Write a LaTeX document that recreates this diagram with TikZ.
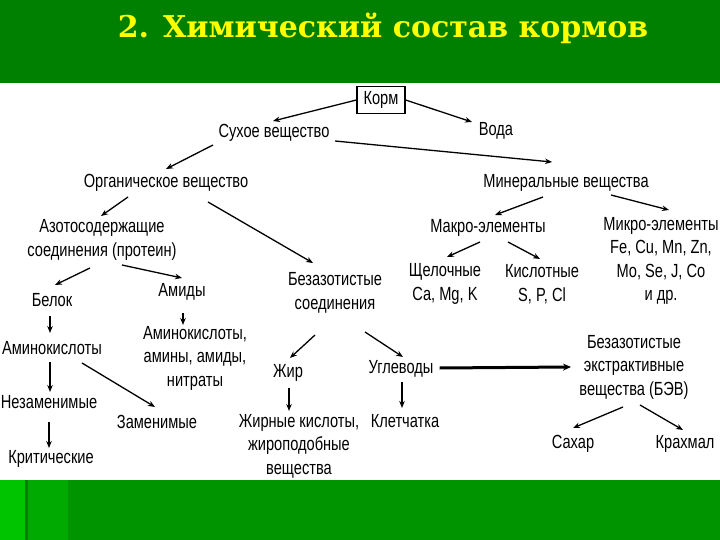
\documentclass[tikz,border=0pt]{standalone}
\usepackage{fontspec}
\setmainfont{Liberation Sans}[FakeStretch=0.77]
\newfontfamily\titlefont{DejaVu Serif}
\usetikzlibrary{arrows.meta}
\definecolor{topgreen}{HTML}{008000}
\definecolor{botgreen}{HTML}{009400}
\definecolor{lightgreen}{HTML}{00C400}
\definecolor{midgreen}{HTML}{00AA00}
\definecolor{titleyellow}{HTML}{FFFF00}
\begin{document}
\begin{tikzpicture}[x=1pt,y=-1pt,
  lbl/.style={font=\fontsize{19}{23.5}\selectfont, align=center, inner sep=0pt, text=black},
  arr/.style={-{Stealth[length=7pt,width=5.5pt]}, line width=1.3pt, black},
  thickarr/.style={-{Stealth[length=8pt,width=7pt]}, line width=3pt, black}]
\useasboundingbox (0,0) rectangle (720,540);
\fill[white] (0,0) rectangle (720,540);
\fill[topgreen] (0,0) rectangle (720,83);
\fill[botgreen] (0,480) rectangle (720,540);
\fill[lightgreen] (0,480) rectangle (25,540);
\fill[midgreen] (28,480) rectangle (68,540);
\fill[green!50!black] (25,480) rectangle (28,540);
\node[font=\titlefont\bfseries\fontsize{30}{34}\selectfont, text=titleyellow, inner sep=0pt] (title) at (383,28) {2. Химический состав кормов};

\node[lbl, draw, line width=1.2pt, minimum width=48pt, minimum height=27pt] (korm) at (381,100) {Корм};
\node[lbl] (suh) at (274,133) {Сухое вещество};
\node[lbl] (voda) at (496,131) {Вода};
\node[lbl] (org) at (166,183) {Органическое вещество};
\node[lbl] (min) at (566,183) {Минеральные вещества};
\node[lbl] (azot) at (102,240) {Азотосодержащие\\соединения (протеин)};
\node[lbl] (bezs) at (335,293) {Безазотистые\\соединения};
\node[lbl] (makro) at (488,228) {Макро-элементы};
\node[lbl] (mikro) at (661,261) {Микро-элементы\\Fe, Cu, Mn, Zn,\\Mo, Se, J, Co\\и др.};
\node[lbl] (shch) at (445,284) {Щелочные\\Ca, Mg, K};
\node[lbl] (kisl) at (542,284) {Кислотные\\S, P, Cl};
\node[lbl] (belok) at (52,300) {Белок};
\node[lbl] (amidy) at (182,292) {Амиды};
\node[lbl] (amino) at (52,348) {Аминокислоты};
\node[lbl] (amino2) at (195,358) {Аминокислоты,\\амины, амиды,\\нитраты};
\node[lbl] (zhir) at (288,373) {Жир};
\node[lbl] (ugl) at (401,369) {Углеводы};
\node[lbl] (bev) at (634,367) {Безазотистые\\экстрактивные\\вещества (БЭВ)};
\node[lbl] (nezam) at (49,402) {Незаменимые};
\node[lbl] (zam) at (157,422) {Заменимые};
\node[lbl] (kletch) at (405,421) {Клетчатка};
\node[lbl] (zhirk) at (299,446) {Жирные кислоты,\\жироподобные\\вещества};
\node[lbl] (krit) at (51,459) {Критические};
\node[lbl] (sahar) at (573,444) {Сахар};
\node[lbl] (krahm) at (685,444) {Крахмал};

\coordinate (a1) at (273,121);
\draw[arr] (korm.west) -- (a1);
\draw[arr] (korm.east) -- (472,122);
\draw[arr] (335,141) -- (552,162);
\draw[arr] (213,145) -- (166,169);
\draw[arr] (128,197) -- (101,216);
\draw[arr] (208,202) -- (313,263);
\draw[arr] (543,197) -- (495,215);
\draw[arr] (611,195) -- (669,210);
\draw[arr] (90,268) -- (55,285);
\draw[arr] (122,265) -- (182,278);
\draw[arr] (50,316) -- (50,333);
\draw[arr] (183,313) -- (183,325);
\draw[arr] (315,335) -- (290,358);
\draw[arr] (365,332) -- (403,357);
\draw[arr] (480,242) -- (447,257);
\draw[arr] (508,242) -- (540,259);
\draw[arr] (50,362) -- (50,392);
\draw[arr] (82,363) -- (155,407);
\draw[arr] (49,422) -- (49,448);
\draw[arr] (289,388) -- (289,411);
\draw[arr] (402,382) -- (402,408);
\draw[thickarr] (ugl.east) ++(6,-1) -- (571,367);
\draw[arr] (623,407) -- (573,428);
\draw[arr] (640,405) -- (683,430);
\end{tikzpicture}
\end{document}
